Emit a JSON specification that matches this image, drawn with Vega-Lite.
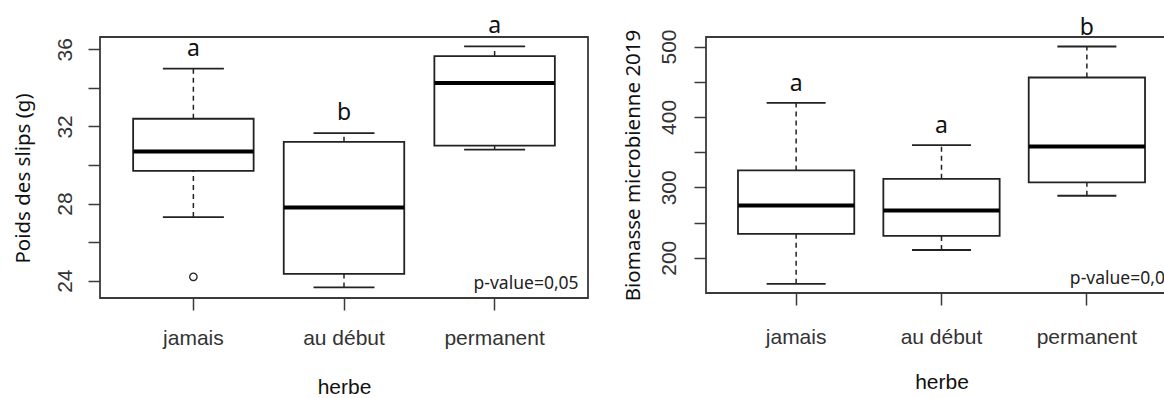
{
  "$schema": "https://vega.github.io/schema/vega-lite/v6.json",
  "background": "white",
  "padding": {"left": 12, "top": 14, "right": 0, "bottom": 0},
  "spacing": 33,
  "config": {
    "view": {"stroke": "#3a3a3a", "strokeWidth": 1.8},
    "axis": {"grid": false, "domain": false, "tickColor": "#3a3a3a", "tickWidth": 1.5, "tickSize": 12, "labelFont": "Liberation Sans", "labelFontSize": 21, "labelColor": "#333333", "titleFontWeight": "normal", "titleColor": "#111111"},
    "axisX": {"labelAngle": 0, "labelBaseline": "middle", "titleFont": "Liberation Sans", "titleFontSize": 21, "titleY": 89, "titleBaseline": "middle"},
    "axisY": {"labelAngle": -90, "labelAlign": "center", "labelBaseline": "alphabetic", "titleFont": "Noto Sans", "titleFontSize": 20.5, "titleBaseline": "middle", "titleAngle": -90}
  },
  "hconcat": [
    {
      "width": 488,
      "height": 261,
      "data": {"values": [
        {"herbe": "jamais", "lower": 27.3, "q1": 29.7, "median": 30.7, "q3": 32.4, "upper": 35.0, "outlier": 24.2, "letter": "a"},
        {"herbe": "au début", "lower": 23.65, "q1": 24.35, "median": 27.8, "q3": 31.2, "upper": 31.65, "outlier": null, "letter": "b"},
        {"herbe": "permanent", "lower": 30.8, "q1": 31.0, "median": 34.25, "q3": 35.65, "upper": 36.15, "outlier": null, "letter": "a"}
      ]},
      "encoding": {
        "x": {"field": "herbe", "type": "nominal", "scale": {"domain": ["jamais", "au début", "permanent"], "paddingInner": 0.2, "paddingOuter": 0.22}, "axis": {"title": "herbe", "labelPadding": 28}}
      },
      "layer": [
        {"mark": {"type": "rule", "color": "#222222", "strokeWidth": 1.5, "strokeDash": [5, 4]},
         "encoding": {"y": {"field": "q3", "type": "quantitative", "scale": {"domain": [23.1, 36.64], "nice": false, "zero": false}, "axis": {"title": "Poids des slips (g)", "values": [24, 26, 28, 30, 32, 34, 36], "labelExpr": "datum.value % 4 === 0 ? datum.label : ''", "labelPadding": 17, "titleX": -77, "titleY": 141}}, "y2": {"field": "upper"}}},
        {"mark": {"type": "rule", "color": "#222222", "strokeWidth": 1.5, "strokeDash": [5, 4]},
         "encoding": {"y": {"field": "lower", "type": "quantitative", "scale": {"domain": [23.1, 36.64], "nice": false, "zero": false}}, "y2": {"field": "q1"}}},
        {"mark": {"type": "tick", "color": "#222222", "size": 61, "thickness": 1.8, "opacity": 1},
         "encoding": {"y": {"field": "upper", "type": "quantitative", "scale": {"domain": [23.1, 36.64], "nice": false, "zero": false}}}},
        {"mark": {"type": "tick", "color": "#222222", "size": 61, "thickness": 1.8, "opacity": 1},
         "encoding": {"y": {"field": "lower", "type": "quantitative", "scale": {"domain": [23.1, 36.64], "nice": false, "zero": false}}}},
        {"mark": {"type": "bar", "fill": "white", "stroke": "#222222", "strokeWidth": 1.8},
         "encoding": {"y": {"field": "q1", "type": "quantitative", "scale": {"domain": [23.1, 36.64], "nice": false, "zero": false}}, "y2": {"field": "q3"}}},
        {"mark": {"type": "tick", "color": "#000000", "size": 120, "thickness": 4, "opacity": 1},
         "encoding": {"y": {"field": "median", "type": "quantitative", "scale": {"domain": [23.1, 36.64], "nice": false, "zero": false}}}},
        {"transform": [{"filter": "isValid(datum.outlier)"}],
         "mark": {"type": "point", "shape": "circle", "filled": false, "size": 55, "color": "#222222", "strokeWidth": 1.3, "opacity": 1},
         "encoding": {"y": {"field": "outlier", "type": "quantitative", "scale": {"domain": [23.1, 36.64], "nice": false, "zero": false}}}},
        {"mark": {"type": "text", "font": "Noto Sans", "fontSize": 23, "baseline": "middle", "dy": -20, "color": "#111111"},
         "encoding": {"y": {"field": "upper", "type": "quantitative", "scale": {"domain": [23.1, 36.64], "nice": false, "zero": false}}, "text": {"field": "letter"}}},
        {"transform": [{"filter": "datum.herbe === 'permanent'"}],
         "mark": {"type": "text", "font": "Noto Sans", "fontSize": 17.5, "align": "right", "baseline": "alphabetic", "dx": 84, "dy": -9, "color": "#222222"},
         "encoding": {"y": {"datum": 23.1, "type": "quantitative"}, "text": {"value": "p-value=0,05"}}}
      ]
    },
    {
      "width": 471,
      "height": 256,
      "data": {"values": [
        {"herbe": "jamais", "lower": 163, "q1": 234, "median": 274, "q3": 324, "upper": 420, "letter": "a"},
        {"herbe": "au début", "lower": 211, "q1": 231, "median": 267, "q3": 312, "upper": 360, "letter": "a"},
        {"herbe": "permanent", "lower": 288, "q1": 307, "median": 358, "q3": 456, "upper": 500, "letter": "b"}
      ]},
      "encoding": {
        "x": {"field": "herbe", "type": "nominal", "scale": {"domain": ["jamais", "au début", "permanent"], "paddingInner": 0.2, "paddingOuter": 0.22}, "axis": {"title": "herbe", "labelPadding": 32}}
      },
      "layer": [
        {"mark": {"type": "rule", "color": "#222222", "strokeWidth": 1.5, "strokeDash": [5, 4]},
         "encoding": {"y": {"field": "q3", "type": "quantitative", "scale": {"domain": [149.9, 513.5], "nice": false, "zero": false}, "axis": {"title": "Biomasse microbienne 2019", "values": [200, 250, 300, 350, 400, 450, 500], "labelExpr": "datum.value % 100 === 0 ? datum.label : ''", "labelPadding": 19, "titleX": -73}}, "y2": {"field": "upper"}}},
        {"mark": {"type": "rule", "color": "#222222", "strokeWidth": 1.5, "strokeDash": [5, 4]},
         "encoding": {"y": {"field": "lower", "type": "quantitative", "scale": {"domain": [149.9, 513.5], "nice": false, "zero": false}}, "y2": {"field": "q1"}}},
        {"mark": {"type": "tick", "color": "#222222", "size": 59, "thickness": 1.8, "opacity": 1},
         "encoding": {"y": {"field": "upper", "type": "quantitative", "scale": {"domain": [149.9, 513.5], "nice": false, "zero": false}}}},
        {"mark": {"type": "tick", "color": "#222222", "size": 59, "thickness": 1.8, "opacity": 1},
         "encoding": {"y": {"field": "lower", "type": "quantitative", "scale": {"domain": [149.9, 513.5], "nice": false, "zero": false}}}},
        {"mark": {"type": "bar", "fill": "white", "stroke": "#222222", "strokeWidth": 1.8},
         "encoding": {"y": {"field": "q1", "type": "quantitative", "scale": {"domain": [149.9, 513.5], "nice": false, "zero": false}}, "y2": {"field": "q3"}}},
        {"mark": {"type": "tick", "color": "#000000", "size": 116, "thickness": 4, "opacity": 1},
         "encoding": {"y": {"field": "median", "type": "quantitative", "scale": {"domain": [149.9, 513.5], "nice": false, "zero": false}}}},
        {"mark": {"type": "text", "font": "Noto Sans", "fontSize": 23, "baseline": "middle", "dy": -19, "color": "#111111"},
         "encoding": {"y": {"field": "upper", "type": "quantitative", "scale": {"domain": [149.9, 513.5], "nice": false, "zero": false}}, "text": {"field": "letter"}}},
        {"transform": [{"filter": "datum.herbe === 'permanent'"}],
         "mark": {"type": "text", "font": "Noto Sans", "fontSize": 17.5, "align": "left", "baseline": "alphabetic", "dx": -17, "dy": -9.5, "color": "#222222"},
         "encoding": {"y": {"datum": 149.9, "type": "quantitative"}, "text": {"value": "p-value=0,05"}}}
      ]
    }
  ]
}
